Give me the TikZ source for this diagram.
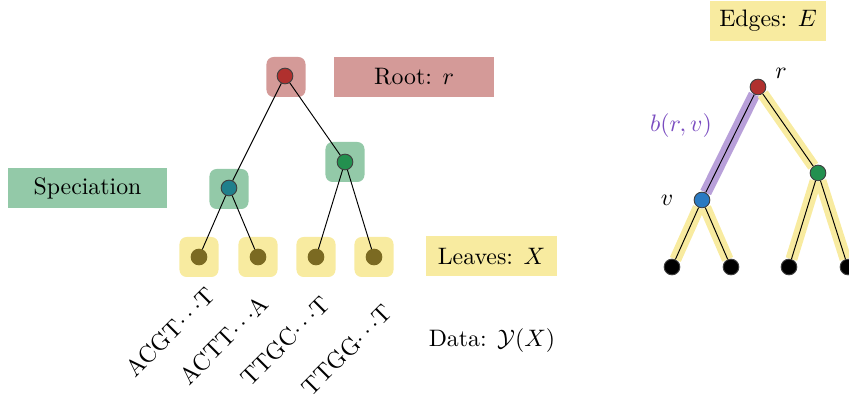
\documentclass[tikz,border=0pt]{standalone}
\usetikzlibrary{positioning}
\definecolor{rootred}{HTML}{B0302E}
\definecolor{rootpale}{HTML}{D49A98}
\definecolor{specteal}{HTML}{20808C}
\definecolor{specgreen}{HTML}{23904F}
\definecolor{specpale}{HTML}{93C9A8}
\definecolor{leafolive}{HTML}{7B6A22}
\definecolor{leafpale}{HTML}{F8EBA0}
\definecolor{vblue}{HTML}{2A7AC2}
\definecolor{branchpale}{HTML}{B8A0D9}
\definecolor{branchtext}{HTML}{7A4CC0}
\tikzstyle{vertex} = [circle, minimum size=6.6pt, inner sep=0pt, draw=black!75, line width=0.4pt]
\tikzstyle{halo} = [rectangle, rounded corners=3pt, minimum width=16.4pt, minimum height=16.8pt, inner sep=0pt]
\tikzstyle{tag} = [rectangle, minimum height=16.8pt, inner sep=0pt, text centered]
\tikzstyle{edge} = [line width=0.4pt]
\tikzstyle{band} = [line width=5pt, line cap=butt]
\tikzstyle{seq} = [rotate=45, inner sep=0pt]
\begin{document}
\begin{tikzpicture}[x=0.42pt, y=-0.42pt]
\useasboundingbox (0,0) rectangle (849,399);

\node (hroot) [halo, fill=rootpale] at (286,77) {};
\node (hspecl) [halo, fill=specpale] at (229,189) {};
\node (hspecr) [halo, fill=specpale] at (345,162) {};
\node (hleafa) [halo, fill=leafpale] at (199,257) {};
\node (hleafb) [halo, fill=leafpale] at (258,257) {};
\node (hleafc) [halo, fill=leafpale] at (316,257) {};
\node (hleafd) [halo, fill=leafpale] at (374,257) {};

\node (rootlbl) [tag, fill=rootpale, minimum width=67.2pt] at (414,77) {Root: $r$};
\node (speclbl) [tag, fill=specpale, minimum width=66.8pt] at (87.5,188.5) {Speciation};
\node (leaflbl) [tag, fill=leafpale, minimum width=55pt] at (491.5,256.5) {Leaves: $X$};
\node (edgelbl) [tag, fill=leafpale, minimum width=48.7pt] at (768,21) {Edges: $E$};
\node (datalbl) at (492,341) {Data: $\mathcal{Y}(X)$};

\node (lroot) [vertex, fill=rootred] at (285,76) {};
\node (lspecl) [vertex, fill=specteal] at (229,188) {};
\node (lspecr) [vertex, fill=specgreen] at (345,162) {};
\node (lleafa) [vertex, fill=leafolive, draw=leafolive] at (199,257) {};
\node (lleafb) [vertex, fill=leafolive, draw=leafolive] at (258,257) {};
\node (lleafc) [vertex, fill=leafolive, draw=leafolive] at (316,257) {};
\node (lleafd) [vertex, fill=leafolive, draw=leafolive] at (374,257) {};

\draw [edge] (lroot) -- (lspecl);
\draw [edge] (lroot) -- (lspecr);
\draw [edge] (lspecl) -- (lleafa);
\draw [edge] (lspecl) -- (lleafb);
\draw [edge] (lspecr) -- (lleafc);
\draw [edge] (lspecr) -- (lleafd);

\node (seqa) [seq] at (170,332) {ACGT$\cdots$T};
\node (seqb) [seq] at (224,340) {ACTT$\cdots$A};
\node (seqc) [seq] at (285,341) {TTGC$\cdots$T};
\node (seqd) [seq] at (347,350) {TTGG$\cdots$T};

\node (rroot) [vertex, fill=rootred] at (758,87) {};
\node (rv) [vertex, fill=vblue] at (702,200) {};
\node (rspec) [vertex, fill=specgreen] at (818,173) {};
\node (rleafa) [vertex, fill=black] at (672,267) {};
\node (rleafb) [vertex, fill=black] at (731,267) {};
\node (rleafc) [vertex, fill=black] at (789,267) {};
\node (rleafd) [vertex, fill=black] at (848,267) {};

\draw [band, branchpale] (rroot) -- (rv);
\draw [band, leafpale] (rroot) -- (rspec);
\draw [band, leafpale] (rv) -- (rleafa);
\draw [band, leafpale] (rv) -- (rleafb);
\draw [band, leafpale] (rspec) -- (rleafc);
\draw [band, leafpale] (rspec) -- (rleafd);
\draw [edge] (rroot) -- (rv);
\draw [edge] (rroot) -- (rspec);
\draw [edge] (rv) -- (rleafa);
\draw [edge] (rv) -- (rleafb);
\draw [edge] (rspec) -- (rleafc);
\draw [edge] (rspec) -- (rleafd);

\node (rlbl) at (781,73) {$r$};
\node (vlbl) at (667,200) {$v$};
\node (blbl) [text=branchtext] at (681,126) {$b(r,v)$};
\end{tikzpicture}
\end{document}
